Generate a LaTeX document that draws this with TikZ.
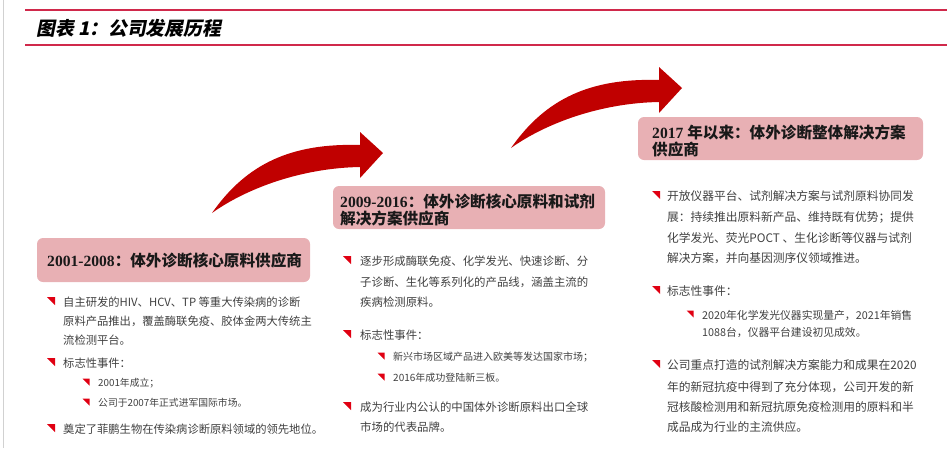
\documentclass[tikz,border=0pt]{standalone}
\usepackage{fontspec}
\setmainfont{Liberation Sans}
\newfontfamily\cjk{Noto Sans CJK SC}
\newfontfamily\cjkti{Noto Sans CJK SC}[FakeSlant=0.2]
\newfontfamily\serifb{Liberation Serif}
\definecolor{linered}{HTML}{D0294B}
\definecolor{boxpink}{HTML}{E8B0B4}
\definecolor{arrowred}{HTML}{C00000}
\definecolor{bulred}{HTML}{E00012}
\definecolor{bodygray}{HTML}{404040}
\newcommand\fcolA{\cjk\fontsize{11.3}{12}\selectfont}
\newcommand\fcolB{\cjk\fontsize{11.4}{12}\selectfont}
\newcommand\fcolC{\cjk\fontsize{11.75}{12}\selectfont}
\newcommand\fsubA{\cjk\fontsize{9.8}{12}\selectfont}
\newcommand\fsubB{\cjk\fontsize{10}{12}\selectfont}
\newcommand\fsubC{\cjk\fontsize{10.8}{12}\selectfont}
\newcommand\fhead{\fontsize{15.6}{18}\selectfont}
\newcommand\hd[2]{{\serifb\bfseries #1}{\cjk\bfseries #2}}
\newcommand\rbul[3]{\fill[bulred] (#1-#3,#2-#3) -- (#1+#3,#2-#3) -- (#1+#3,#2+#3) -- cycle;}
\tikzset{
  txt/.style={anchor=west, inner sep=0pt, text=bodygray},
  hbox/.style={fill=boxpink, rounded corners=6pt, draw=none},
  htxt/.style={anchor=west, inner sep=0pt, text=black!90, font=\fhead},
  bigarrow/.style={fill=arrowred, draw=none}
}
\begin{document}
\begin{tikzpicture}[x=1pt,y=-1pt]
\useasboundingbox (0,0) rectangle (947,448);
% frame lines
\draw[black!18, line width=0.8pt] (3,0) -- (3,448);
\draw[linered, line width=1.6pt] (25,10) -- (947,10);
\draw[linered, line width=1.6pt] (25,45) -- (947,45);
\node[anchor=west, inner sep=0pt, text=black] (title) at (36,28)
  {\cjkti\bfseries\fontsize{18.8}{20}\selectfont 图表 1：公司发展历程};

% arrows
\fill[bigarrow, shift={(212,213)}] (0,0) .. controls (35,-50) and (80,-70) .. (148,-68)
  -- (148,-81) -- (171,-60) -- (148,-35) -- (148,-46)
  .. controls (90,-45) and (35,-25) .. (0,0) -- cycle;
\fill[bigarrow, shift={(511,148)}] (0,0) .. controls (35,-50) and (80,-70) .. (148,-68)
  -- (148,-81) -- (171,-60) -- (148,-35) -- (148,-46)
  .. controls (90,-45) and (35,-25) .. (0,0) -- cycle;

% header boxes
\path[hbox] (37,238) rectangle (310,282);
\node[htxt] (h1) at (47,261) {\hd{2001-2008}{：体外诊断核心原料供应商}};
\path[hbox] (333,186) rectangle (605,229);
\node[htxt] (h2a) at (340,202) {\hd{2009-2016}{：体外诊断核心原料和试剂}};
\node[htxt] (h2b) at (340,219) {\cjk\bfseries 解决方案供应商};
\path[hbox] (638,117) rectangle (923,160);
\node[htxt] (h3a) at (652,133) {\hd{2017 }{年以来：体外诊断整体解决方案}};
\node[htxt] (h3b) at (652,150) {\cjk\bfseries 供应商};

% column 1
\rbul{51}{301}{4}
\node[txt, font=\fcolA] (a1) at (63,302) {自主研发的HIV、HCV、TP 等重大传染病的诊断};
\node[txt, font=\fcolA] (a2) at (63,321) {原料产品推出，覆盖酶联免疫、胶体金两大传统主};
\node[txt, font=\fcolA] (a3) at (63,340) {流检测平台。};
\rbul{51}{362}{4}
\node[txt, font=\fcolA] (a4) at (63,363) {标志性事件：};
\rbul{86}{382}{3.5}
\node[txt, font=\fsubA] (a5) at (98,383) {2001年成立；};
\rbul{86}{402}{3.5}
\node[txt, font=\fsubA] (a6) at (98,403) {公司于2007年正式进军国际市场。};
\rbul{51}{428}{4}
\node[txt, font=\fcolA] (a7) at (63,429) {奠定了菲鹏生物在传染病诊断原料领域的领先地位。};

% column 2
\rbul{347}{260}{4}
\node[txt, font=\fcolB] (b1) at (360,261) {逐步形成酶联免疫、化学发光、快速诊断、分};
\node[txt, font=\fcolB] (b2) at (360,282) {子诊断、生化等系列化的产品线，涵盖主流的};
\node[txt, font=\fcolB] (b3) at (360,302) {疾病检测原料。};
\rbul{347}{334}{4}
\node[txt, font=\fcolB] (b4) at (360,335) {标志性事件：};
\rbul{381}{356}{3.5}
\node[txt, font=\fsubB] (b5) at (393,357) {新兴市场区域产品进入欧美等发达国家市场；};
\rbul{381}{377}{3.5}
\node[txt, font=\fsubB] (b6) at (393,378) {2016年成功登陆新三板。};
\rbul{347}{406}{4}
\node[txt, font=\fcolB] (b7) at (360,407) {成为行业内公认的中国体外诊断原料出口全球};
\node[txt, font=\fcolB] (b8) at (360,427) {市场的代表品牌。};

% column 3
\rbul{656}{195}{4}
\node[txt, font=\fcolC] (c1) at (667,196) {开放仪器平台、试剂解决方案与试剂原料协同发};
\node[txt, font=\fcolC] (c2) at (667,217) {展：持续推出原料新产品、维持既有优势；提供};
\node[txt, font=\fcolC] (c3) at (667,238) {化学发光、荧光POCT 、生化诊断等仪器与试剂};
\node[txt, font=\fcolC] (c4) at (667,258) {解决方案，并向基因测序仪领域推进。};
\rbul{656}{290}{4}
\node[txt, font=\fcolC] (c5) at (667,291) {标志性事件：};
\rbul{690}{314}{3.5}
\node[txt, font=\fsubC] (c6) at (702,315) {2020年化学发光仪器实现量产，2021年销售};
\node[txt, font=\fsubC] (c7) at (702,333) {1088台，仪器平台建设初见成效。};
\rbul{656}{364}{4}
\node[txt, font=\fcolC] (c8) at (667,365) {公司重点打造的试剂解决方案能力和成果在2020};
\node[txt, font=\fcolC] (c9) at (667,387) {年的新冠抗疫中得到了充分体现，公司开发的新};
\node[txt, font=\fcolC] (c10) at (667,407) {冠核酸检测用和新冠抗原免疫检测用的原料和半};
\node[txt, font=\fcolC] (c11) at (667,427) {成品成为行业的主流供应。};
\end{tikzpicture}
\end{document}
